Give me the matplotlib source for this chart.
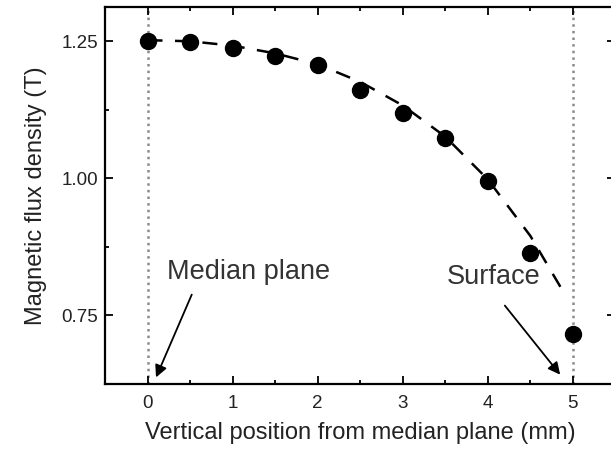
import numpy as np
from matplotlib import pyplot as plt
from matplotlib.ticker import MultipleLocator

# measured points
pos_mm = [0, 0.5, 1, 1.5, 2, 2.5, 3, 3.5, 4, 4.5, 5]
flux_T = [1.250, 1.249, 1.237, 1.224, 1.206, 1.161, 1.120, 1.073, 0.996, 0.863, 0.717]

# dashed guide curve
fit_x = [0, 0.5, 1, 1.5, 2, 2.5, 3, 3.5, 4, 4.5, 4.88]
fit_y = [1.252, 1.250, 1.242, 1.228, 1.208, 1.176, 1.133, 1.076, 0.998, 0.895, 0.795]

boundaries = [0, 5]

plt.rcParams['font.family'] = ['Liberation Sans', 'DejaVu Sans']

fig = plt.figure(figsize=(6.11, 4.54), dpi=100)
ax = fig.add_axes([0.1718, 0.1542, 0.8355, 0.8304])

for b in boundaries:
	ax.axvline(b, color='#8a8a8a', linestyle=':', lw=1.8, zorder=1)

ax.plot(fit_x, fit_y, color='black', lw=1.8, dashes=(6, 5), zorder=2)
ax.plot(pos_mm, flux_T, 'o', color='black', markersize=11.5, zorder=3)

ax.set_xlim(-0.5, 5.5)
ax.set_ylim(0.625, 1.3125)
ax.xaxis.set_major_locator(MultipleLocator(1))
ax.xaxis.set_minor_locator(MultipleLocator(0.5))
ax.yaxis.set_major_locator(MultipleLocator(0.25))
ax.yaxis.set_minor_locator(MultipleLocator(0.125))
ax.yaxis.set_major_formatter(plt.FormatStrFormatter('%.2f'))

ax.tick_params(which='both', direction='in', top=True, right=True, labelsize=13.5, width=1.3, labelcolor='#222222')
ax.tick_params(which='major', length=6, pad=8)
ax.tick_params(axis='y', which='major', pad=5)
ax.tick_params(which='minor', length=3)
for s in ax.spines.values():
	s.set_linewidth(1.6)

ax.set_xlabel('Vertical position from median plane (mm)', fontsize=17, labelpad=7, color='#222222')
ax.set_ylabel('Magnetic flux density (T)', fontsize=17, labelpad=10, color='#222222')

# labels and arrows
ax.text(1.19, 0.829, 'Median plane', fontsize=19.5, ha='center', va='center', color='#333333')
ax.annotate('', xy=(0.1, 0.637), xytext=(0.52, 0.788),
	arrowprops=dict(arrowstyle='-|>', color='black', lw=1.3, mutation_scale=18, shrinkA=0, shrinkB=0))
ax.text(4.07, 0.821, 'Surface', fontsize=19.5, ha='center', va='center', color='#333333')
ax.annotate('', xy=(4.85, 0.642), xytext=(4.2, 0.768),
	arrowprops=dict(arrowstyle='-|>', color='black', lw=1.3, mutation_scale=18, shrinkA=0, shrinkB=0))

plt.savefig('out.png', dpi=100)
